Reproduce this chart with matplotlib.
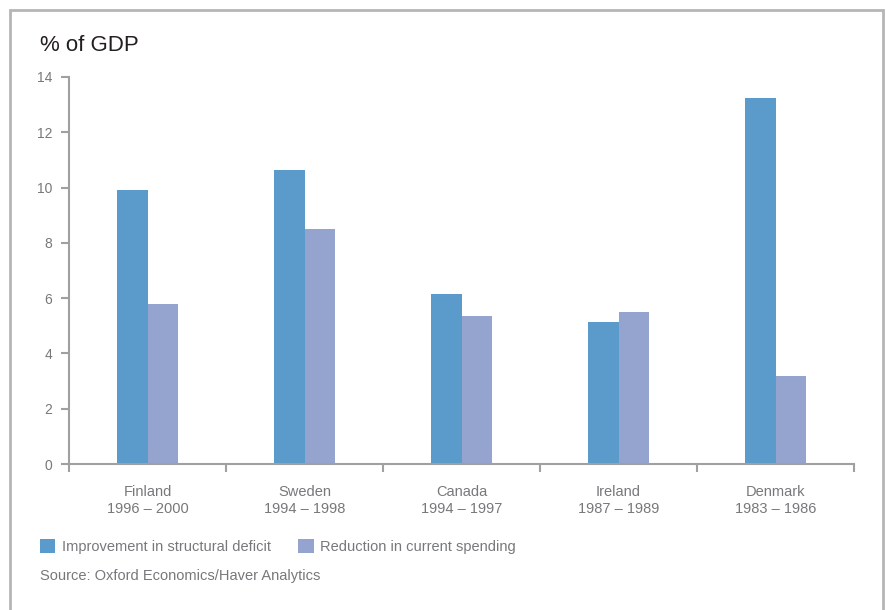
import matplotlib
matplotlib.use("Agg")
import matplotlib.pyplot as plt
from matplotlib.patches import Rectangle
import numpy as np

plt.rcParams['font.family'] = ['Liberation Sans', 'DejaVu Sans']

countries = ["Finland", "Sweden", "Canada", "Ireland", "Denmark"]
periods = ["1996 \u2013 2000", "1994 \u2013 1998", "1994 \u2013 1997", "1987 \u2013 1989", "1983 \u2013 1986"]
structural = [9.9, 10.65, 6.15, 5.15, 13.25]
spending = [5.8, 8.5, 5.35, 5.5, 3.2]

blue = "#5b9bcb"
purple = "#95a3cf"
grey = "#a0a0a0"
text_grey = "#77787b"

fig = plt.figure(figsize=(8.86, 6.1), dpi=100)
ax = fig.add_axes([0.0779, 0.2393, 0.886, 0.6345])

x = np.arange(len(countries))
w = 0.195
ax.bar(x - w / 2, structural, w, color=blue, label="Improvement in structural deficit")
ax.bar(x + w / 2, spending, w, color=purple, label="Reduction in current spending")

ax.set_xlim(-0.5, len(countries) - 0.5)
ax.set_ylim(0, 14)
ax.set_yticks(range(0, 15, 2))
ax.set_xticks(np.arange(-0.5, len(countries), 1.0))
ax.set_xticklabels([])
ax.set_xticks(x, [c + "\n" + p for c, p in zip(countries, periods)], minor=True)

for s in ["top", "right"]:
    ax.spines[s].set_visible(False)
for s in ["left", "bottom"]:
    ax.spines[s].set_color(grey)
    ax.spines[s].set_linewidth(1.5)

ax.tick_params(axis="y", colors=grey, labelcolor=text_grey, labelsize=10, length=6, width=1.5, pad=6)
ax.tick_params(axis="x", which="major", colors=grey, length=6, width=1.5)
ax.tick_params(axis="x", which="minor", length=0, labelcolor=text_grey, labelsize=10.5, pad=15)
for lab in ax.get_xticklabels(minor=True):
    lab.set_linespacing(1.3)

fig.text(0.045, 0.925, "% of GDP", fontsize=16, color="#231f20", va="center")

leg = fig.legend(loc="lower left", bbox_to_anchor=(0.045, 0.092), ncol=2, frameon=False,
                 fontsize=10.5, handlelength=1.05, handleheight=1.05, handletextpad=0.45,
                 columnspacing=1.9, borderaxespad=0, borderpad=0)
for t in leg.get_texts():
    t.set_color(text_grey)

fig.text(0.045, 0.056, "Source: Oxford Economics/Haver Analytics", fontsize=10.5, color=text_grey, va="center")

fig.patches.append(Rectangle((10 / 886, -0.05), 873 / 886, 1.05 - 10 / 610, transform=fig.transFigure,
                             fill=False, edgecolor="#b5b5b5", linewidth=2, clip_on=False))

fig.savefig("out.png", dpi=100)
